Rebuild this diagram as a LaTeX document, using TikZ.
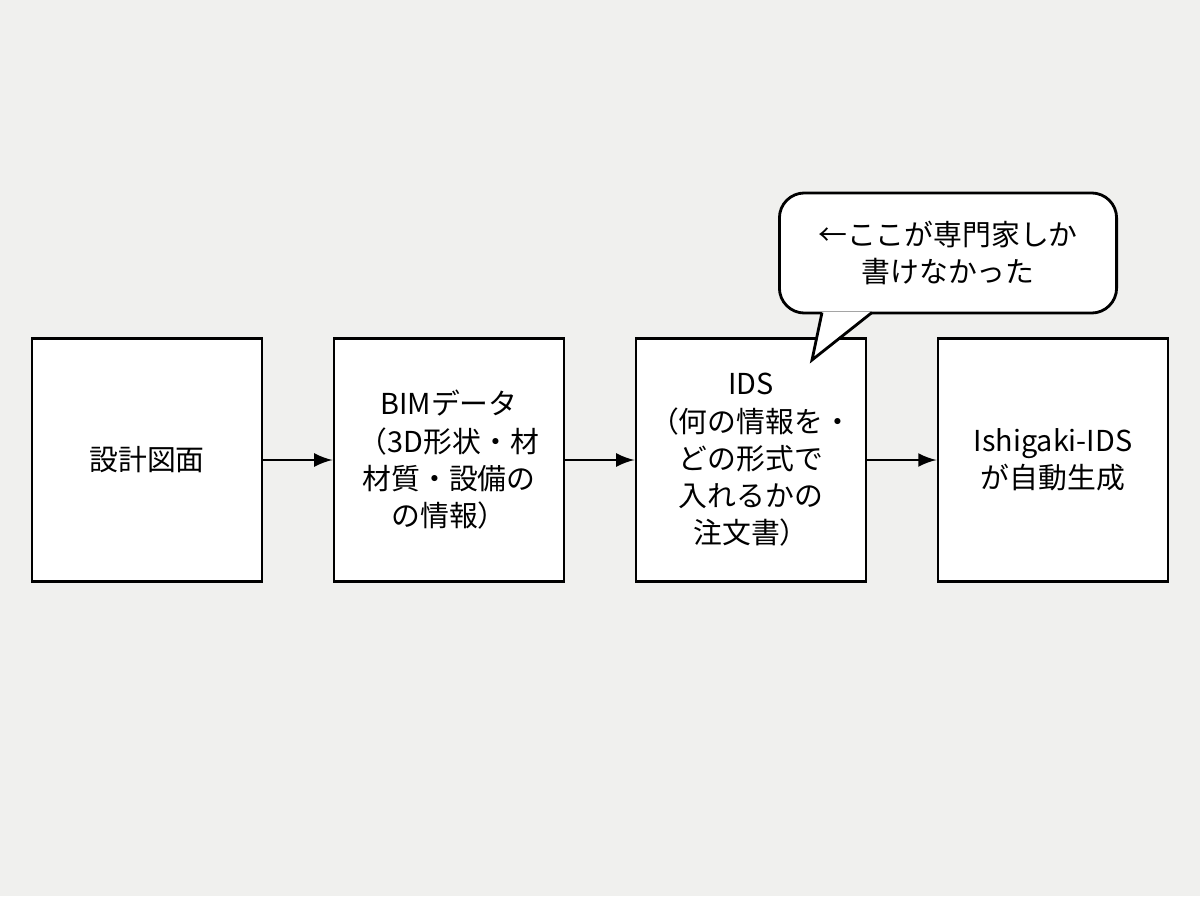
\documentclass[tikz,border=0pt]{standalone}
\usepackage{fontspec}
\setmainfont{Noto Sans CJK JP}
\usetikzlibrary{positioning}
\definecolor{bg}{RGB}{240,240,238}
\begin{document}
\begin{tikzpicture}[x=0.01cm,y=0.01cm,
    box/.style = {draw, thick, fill=white, minimum width=2.3cm, minimum height=2.43cm, align=center, font=\fontsize{8.2pt}{10.6pt}\selectfont},
    flow/.style = {->, thick, >=latex}]
    \fill[bg] (0,0) rectangle (1200,896);
    \useasboundingbox (0,0) rectangle (1200,896);

    \node[box] (plan) at (147,436) {設計図面};
    \node[box] (bim) at (449,436) {BIMデータ\\（3D形状・材\\材質・設備の\\の情報）};
    \node[box] (ids) at (751,436) {IDS\\（何の情報を・\\どの形式で\\入れるかの\\注文書）};
    \node[box] (auto) at (1053,436) {Ishigaki-IDS\\が自動生成};

    \draw[flow] (plan) -- (bim);
    \draw[flow] (bim) -- (ids);
    \draw[flow] (ids) -- (auto);

    % callout
    \node[draw, thick, fill=white, rounded corners=0.25cm, minimum width=3.37cm, minimum height=1.2cm, align=center, font=\fontsize{8.2pt}{10.6pt}\selectfont] (note) at (948,643) {←ここが専門家しか\\書けなかった};
    \coordinate (tip) at (812,536);
    \fill[white] (822,584) -- (tip) -- (872,584) -- cycle;
    \draw[thick] (822,583.5) -- (tip) -- (872,583.5);
\end{tikzpicture}
\end{document}
